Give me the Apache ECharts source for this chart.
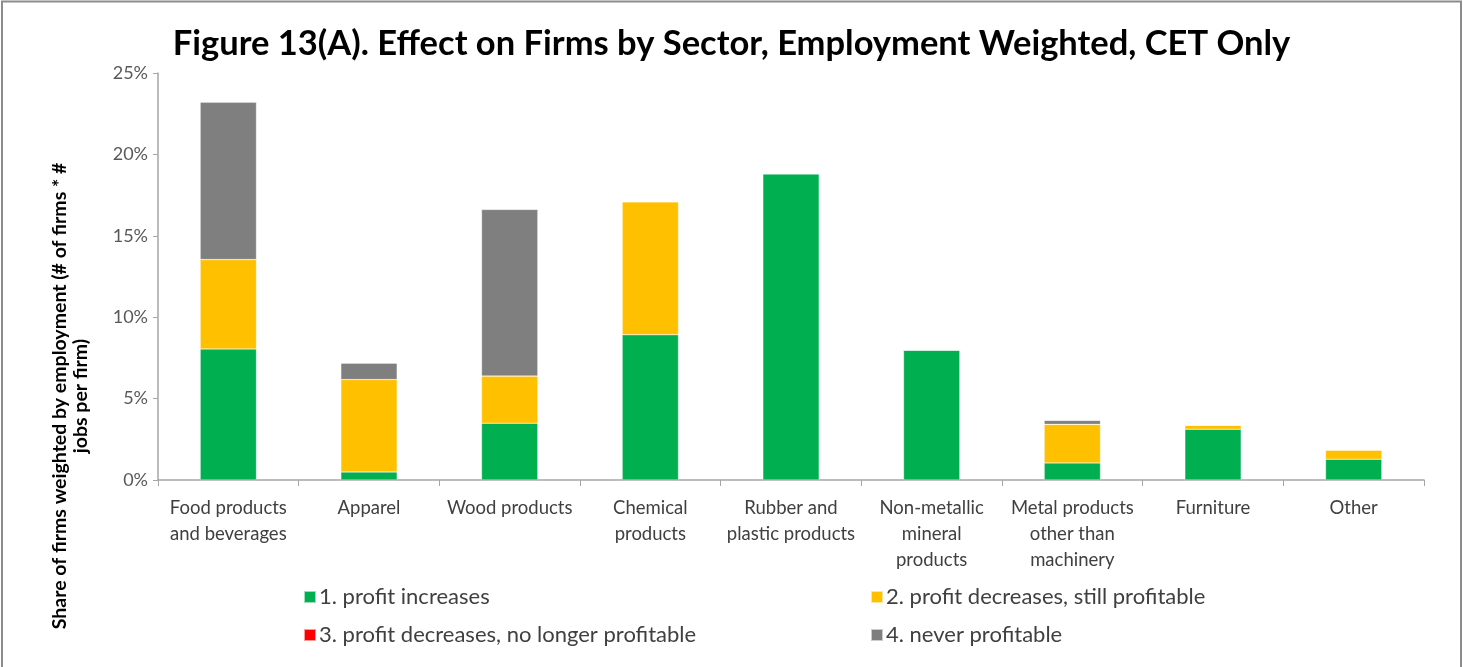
<!DOCTYPE html>
<html>
<head>
<meta charset="utf-8">
<script src="https://cdn.jsdelivr.net/npm/echarts@6/dist/echarts.min.js"></script>
<style>
html,body{margin:0;padding:0;background:#fff;}
#chart{width:1463px;height:667px;}
</style>
</head>
<body>
<div id="chart"></div>
<script>
const categories = ['Food products\nand beverages','Apparel','Wood products','Chemical\nproducts','Rubber and\nplastic products','Non-metallic\nmineral\nproducts','Metal products\nother than\nmachinery','Furniture','Other'];
const seriesNames = ['1. profit increases','2. profit decreases, still profitable','3. profit decreases, no longer profitable','4. never profitable'];
const profitIncreases = [8.05, 0.49, 3.49, 8.92, 18.81, 7.98, 1.05, 3.12, 1.28];
const profitDecreasesStill = [5.49, 5.68, 2.90, 8.17, 0, 0, 2.37, 0.24, 0.56];
const profitDecreasesNoLonger = [0, 0, 0, 0, 0, 0, 0, 0, 0];
const neverProfitable = [9.66, 1.00, 10.23, 0, 0, 0, 0.24, 0, 0];
const yTicks = [0, 5, 10, 15, 20, 25];

const colors = ['#00AF50', '#FFC000', '#FF0000', '#7F7F7F'];
const FONT = 'Lato';
const chart = echarts.init(document.getElementById('chart'));

const dataSets = [profitIncreases, profitDecreasesStill, profitDecreasesNoLonger, neverProfitable];
const legendPos = [[298, 581], [865, 581], [298, 619], [865, 619]];

const option = {
  animation: false,
  backgroundColor: '#fff',
  title: {
    text: 'Figure 13(A). Effect on Firms by Sector, Employment Weighted, CET Only',
    left: 'center', top: 21,
    textStyle: { fontFamily: FONT, fontWeight: 'bold', fontSize: 34.5, color: '#000' }
  },
  legend: seriesNames.map((n, i) => ({
    data: [n], left: legendPos[i][0], top: legendPos[i][1],
    itemWidth: 12, itemHeight: 12, icon: 'rect', itemGap: 4,
    textStyle: { fontFamily: FONT, fontSize: 22, color: '#404040', padding: [0, 0, 0, -2] }
  })),
  grid: { left: 158, right: 39, top: 73, bottom: 187, containLabel: false },
  xAxis: {
    type: 'category', data: categories,
    axisLine: { lineStyle: { color: '#A6A6A6', width: 1.5 } },
    axisTick: { show: true, length: 6, lineStyle: { color: '#A6A6A6' } },
    axisLabel: { fontFamily: FONT, fontSize: 18.5, color: '#404040', lineHeight: 26, margin: 15, interval: 0 }
  },
  yAxis: {
    type: 'value', min: 0, max: 25, interval: 5,
    axisLine: { show: true, lineStyle: { color: '#A6A6A6', width: 1.5 } },
    axisTick: { show: true, length: 5, lineStyle: { color: '#A6A6A6' } },
    splitLine: { show: false },
    axisLabel: { fontFamily: FONT, fontSize: 18, color: '#595959', margin: 10, formatter: v => yTicks.includes(v) ? v + '%' : '' }
  },
  graphic: [
    { type: 'rect', shape: { x: 2, y: 1.5, width: 1459, height: 700 }, style: { fill: 'none', stroke: '#8C8C8C', lineWidth: 2 }, silent: true },
    { type: 'text', x: 70, y: 396, rotation: Math.PI / 2,
      style: { text: 'Share of firms weighted by employment (# of firms * #\njobs per firm)', fontFamily: FONT, fontWeight: 'bold', fontSize: 19.5, lineHeight: 21, fill: '#000', align: 'center', verticalAlign: 'middle' } }
  ],
  series: seriesNames.map((n, i) => ({
    name: n, type: 'bar', stack: 'total', data: dataSets[i],
    barWidth: '40%',
    itemStyle: { color: colors[i], borderColor: 'rgba(255,255,255,0.6)', borderWidth: 0.5 }
  }))
};
chart.setOption(option);
</script>
</body>
</html>
